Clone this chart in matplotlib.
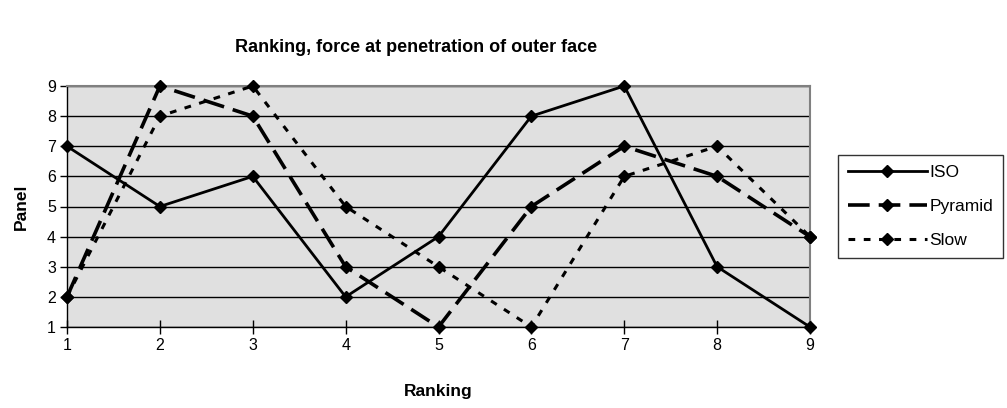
import matplotlib
matplotlib.use("Agg")
import matplotlib.pyplot as plt

rankings = [1, 2, 3, 4, 5, 6, 7, 8, 9]
iso = [7, 5, 6, 2, 4, 8, 9, 3, 1]
pyramid = [2, 9, 8, 3, 1, 5, 7, 6, 4]
slow = [2, 8, 9, 5, 3, 1, 6, 7, 4]
yticks = [1, 2, 3, 4, 5, 6, 7, 8, 9]

plt.rcParams['font.family'] = ['Liberation Sans', 'DejaVu Sans']

W, H = 1007, 408
fig = plt.figure(figsize=(W / 100, H / 100), dpi=100)
ax = fig.add_axes([67 / W, 1 - 327 / H, (810 - 67) / W, (327 - 86) / H])
ax.set_facecolor('#e0e0e0')

mk = dict(marker='D', markersize=6.6, color='black', markerfacecolor='black',
          markeredgecolor='black', clip_on=False, zorder=5)
ax.plot(rankings, iso, linestyle='-', linewidth=2, label='ISO', **mk)
ax.plot(rankings, pyramid, linestyle=(0, (6, 2.5)), linewidth=2.6, label='Pyramid', **mk)
ax.plot(rankings, slow, linestyle=(0, (2.2, 2.8)), linewidth=2.2, label='Slow', **mk)

ax.set_xlim(1, 9)
ax.set_ylim(1, 9)
ax.set_xticks(rankings)
ax.set_yticks(yticks)
ax.yaxis.grid(True, color='black', linewidth=1)
ax.set_axisbelow(True)
ax.tick_params(axis='x', direction='inout', length=10, width=1, labelsize=11.5, pad=3)
ax.tick_params(axis='y', direction='out', length=5, width=1, labelsize=11.5, pad=3)
for s in ['left', 'bottom']:
    ax.spines[s].set_color('black')
    ax.spines[s].set_linewidth(1)
for s in ['top', 'right']:
    ax.spines[s].set_color('#808080')
    ax.spines[s].set_linewidth(1.5)

ax.set_xlabel('Ranking', fontsize=12.5, fontweight='bold', labelpad=22)
ax.set_ylabel('Panel', fontsize=12.5, fontweight='bold', labelpad=13)
fig.text(416 / W, 1 - 48 / H, 'Ranking, force at penetration of outer face',
         fontsize=13, fontweight='bold', ha='center', va='center')

leg = fig.legend(loc='upper left', bbox_to_anchor=(838 / W, 1 - 155 / H),
                 fontsize=12.5, frameon=True, fancybox=False, edgecolor='black',
                 handlelength=4.6, handletextpad=0.12, labelspacing=1.1,
                 borderpad=0.55, borderaxespad=0)
leg.get_frame().set_linewidth(1)

fig.savefig('out.png', dpi=100)
